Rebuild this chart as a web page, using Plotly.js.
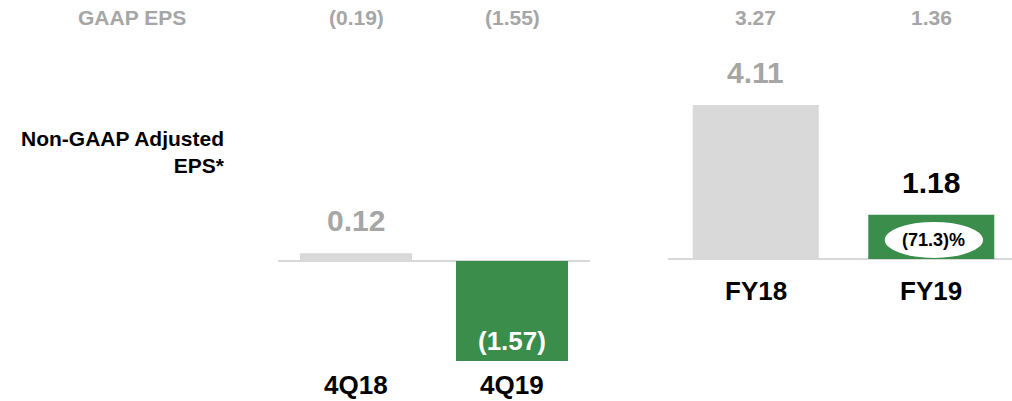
<!DOCTYPE html>
<html>
<head>
<meta charset="utf-8">
<script src="https://cdn.plot.ly/plotly-3.0.1.min.js"></script>
<style>html,body{margin:0;padding:0;background:#fff;}#chart{width:1012px;height:401px;}</style>
</head>
<body>
<div id="chart"></div>
<script>
// ---- data ----
const quarterCats = ['4Q18', '4Q19'];
const quarterAdjEps = [0.12, -1.57];
const quarterGaapEps = [-0.19, -1.55];
const yearCats = ['FY18', 'FY19'];
const yearAdjEps = [4.11, 1.18];
const yearGaapEps = [3.27, 1.36];
const headerLabel = 'GAAP EPS';
const rowLabel = 'Non-GAAP Adjusted<br>EPS*';

// ---- styling ----
const W = 1012, H = 401;
const FONT = 'Liberation Sans, Arial, sans-serif';
const GRAY_BAR = '#d9d9d9';
const GREEN = '#3a8d4b';
const GRAY_TXT = '#a6a6a6';
const BLACK = '#000000';

function fmt(v) { return v < 0 ? '(' + Math.abs(v).toFixed(2) + ')' : v.toFixed(2); }
function py(p) { return 1 - p / H; }

// pixel scales for each panel
const qScale = 63.7, qBase = 261;
const yScale = 37.5, yBase = 259;

const traces = [
  { type: 'bar', x: quarterCats, y: quarterAdjEps, xaxis: 'x', yaxis: 'y',
    marker: { color: [GRAY_BAR, GREEN] }, hoverinfo: 'skip' },
  { type: 'bar', x: yearCats, y: yearAdjEps, xaxis: 'x2', yaxis: 'y2',
    marker: { color: [GRAY_BAR, GREEN] }, hoverinfo: 'skip' }
];

const ann = [];
function valueLabels(cats, vals, xr, yr) {
  cats.forEach((c, i) => {
    const prior = i === 0;
    if (vals[i] >= 0) {
      ann.push({ xref: xr, yref: yr, x: c, y: vals[i], yanchor: 'bottom', yshift: 14,
        text: fmt(vals[i]), showarrow: false,
        font: { family: FONT, size: 30, weight: 'bold', color: prior ? GRAY_TXT : BLACK } });
    } else {
      ann.push({ xref: xr, yref: yr, x: c, y: vals[i], yanchor: 'bottom', yshift: 3,
        text: fmt(vals[i]), showarrow: false,
        font: { family: FONT, size: 26, weight: 'bold', color: prior ? GRAY_TXT : '#ffffff' } });
    }
  });
}
valueLabels(quarterCats, quarterAdjEps, 'x', 'y');
valueLabels(yearCats, yearAdjEps, 'x2', 'y2');

// category labels
quarterCats.forEach(c => ann.push({ xref: 'x', yref: 'paper', x: c, y: 0, yanchor: 'bottom', borderpad: 0,
  text: c, showarrow: false, font: { family: FONT, size: 26, weight: 'bold', color: BLACK } }));
yearCats.forEach(c => ann.push({ xref: 'x2', yref: 'paper', x: c, y: py(291), yanchor: 'middle',
  text: c, showarrow: false, font: { family: FONT, size: 26, weight: 'bold', color: BLACK } }));

// GAAP header row
ann.push({ xref: 'paper', yref: 'paper', x: 132 / W, y: py(17), xanchor: 'center', yanchor: 'middle',
  text: headerLabel, showarrow: false, font: { family: FONT, size: 21, weight: 'bold', color: GRAY_TXT } });
quarterCats.forEach((c, i) => ann.push({ xref: 'x', yref: 'paper', x: c, y: py(17), yanchor: 'middle',
  text: fmt(quarterGaapEps[i]), showarrow: false, font: { family: FONT, size: 21, weight: 'bold', color: GRAY_TXT } }));
yearCats.forEach((c, i) => ann.push({ xref: 'x2', yref: 'paper', x: c, y: py(17), yanchor: 'middle',
  text: fmt(yearGaapEps[i]), showarrow: false, font: { family: FONT, size: 21, weight: 'bold', color: GRAY_TXT } }));

// row label
ann.push({ xref: 'paper', yref: 'paper', x: 227 / W, y: py(152), xanchor: 'right', yanchor: 'middle', align: 'right',
  text: rowLabel, showarrow: false, font: { family: FONT, size: 21, weight: 'bold', color: BLACK } });

// change badge
const pct = (yearAdjEps[1] / yearAdjEps[0] - 1) * 100;
const pctText = pct < 0 ? '(' + Math.abs(pct).toFixed(1) + ')%' : pct.toFixed(1) + '%';
ann.push({ xref: 'x2', yref: 'y2', x: yearCats[1], y: 0.5, xshift: 2, yanchor: 'middle',
  text: pctText, showarrow: false, font: { family: FONT, size: 18, weight: 'bold', color: BLACK } });

const layout = {
  width: W, height: H,
  margin: { l: 0, r: 0, t: 0, b: 0, pad: 0 },
  paper_bgcolor: '#ffffff', plot_bgcolor: 'rgba(0,0,0,0)',
  showlegend: false, bargap: 0.282,
  xaxis: { domain: [278 / W, 590 / W], range: [-0.5, 1.5], type: 'category', anchor: 'y',
    showticklabels: false, showgrid: false, zeroline: false, showline: false, ticks: '' },
  yaxis: { domain: [0, 1], range: [-(H - qBase) / qScale, qBase / qScale], anchor: 'x',
    showticklabels: false, showgrid: false, zeroline: true, zerolinecolor: GRAY_BAR, zerolinewidth: 2, showline: false, ticks: '' },
  xaxis2: { domain: [668 / W, 1], range: [-0.5, 1.46], type: 'category', anchor: 'y2',
    showticklabels: false, showgrid: false, zeroline: false, showline: false, ticks: '' },
  yaxis2: { domain: [0, 1], range: [-(H - yBase) / yScale, yBase / yScale], anchor: 'x2',
    showticklabels: false, showgrid: false, zeroline: true, zerolinecolor: GRAY_BAR, zerolinewidth: 2, showline: false, ticks: '' },
  shapes: [
    { type: 'circle', xref: 'x2', yref: 'y2', x0: 1 - 0.265, x1: 1 + 0.295, y0: 0.03, y1: 0.99,
      fillcolor: '#ffffff', line: { width: 0 }, layer: 'above' }
  ],
  annotations: ann
};

Plotly.newPlot('chart', traces, layout, { displayModeBar: false, staticPlot: true });
</script>
</body>
</html>
